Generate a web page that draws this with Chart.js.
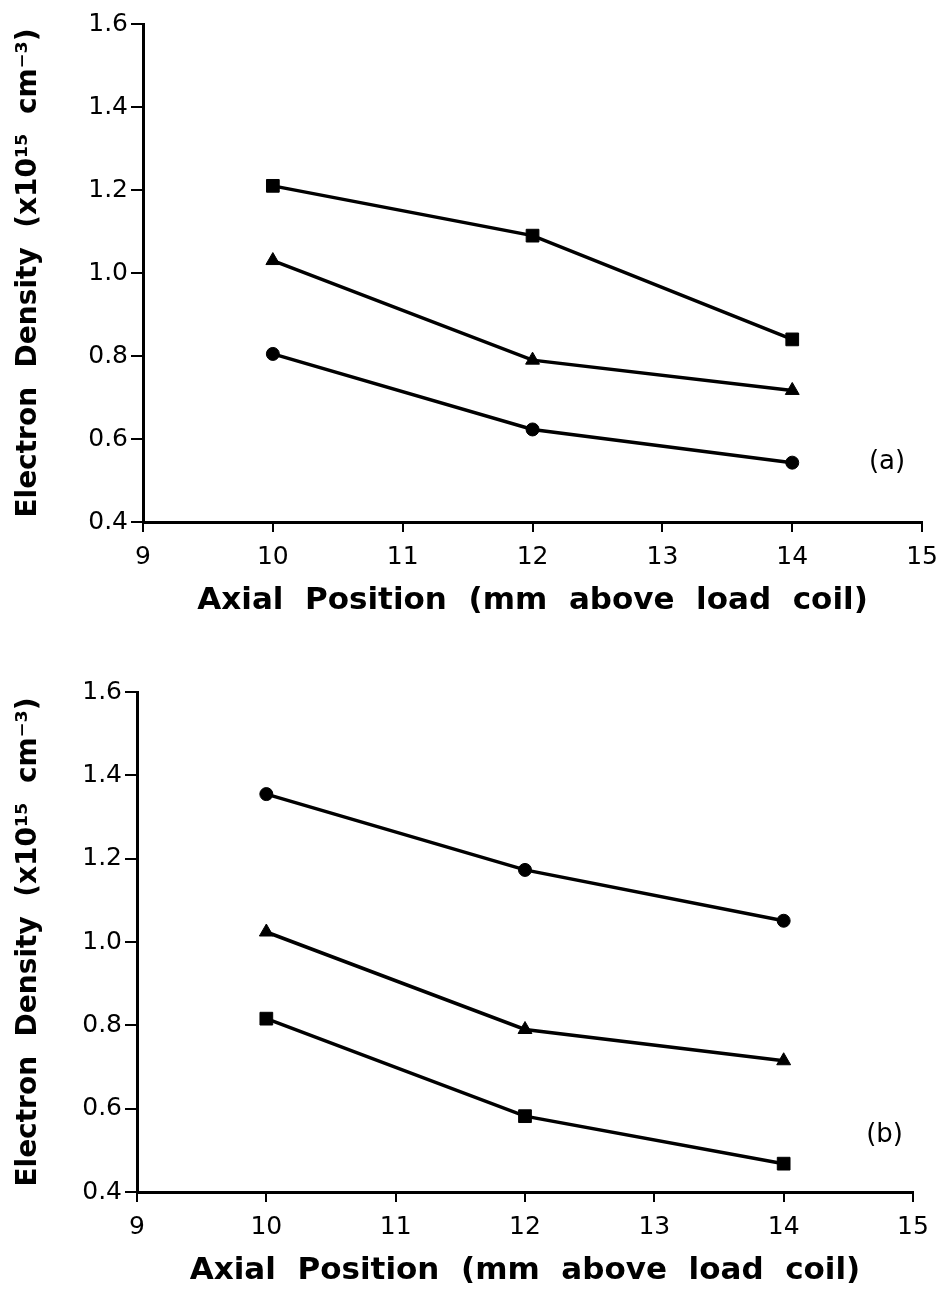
<!DOCTYPE html>
<html>
<head>
<meta charset="utf-8">
<title>Electron Density vs Axial Position</title>
<script src="https://cdn.jsdelivr.net/npm/chart.js@4.4.1/dist/chart.umd.min.js"></script>
<style>
  html, body { margin: 0; padding: 0; background: #fff; }
  body { width: 948px; height: 1295px; position: relative; overflow: hidden; }
  .panel { position: absolute; left: 0; width: 948px; }
  #panelA { top: 0; height: 640px; }
  #panelB { top: 660px; height: 635px; }
</style>
</head>
<body>
<div class="panel" id="panelA"><canvas id="chartA"></canvas></div>
<div class="panel" id="panelB"><canvas id="chartB"></canvas></div>

<script>
// axial positions (mm above load coil)
const positions = [10, 12, 14];

// panel (a), electron density x10^15 cm^-3
const aSquares = [1.21, 1.09, 0.84];
const aTriangles = [1.03, 0.79, 0.717];
const aCircles = [0.805, 0.623, 0.543];

// panel (b)
const bCircles = [1.355, 1.173, 1.051];
const bTriangles = [1.024, 0.79, 0.715];
const bSquares = [0.816, 0.582, 0.468];

const xTicks = [9, 10, 11, 12, 13, 14, 15];
const yTicks = [0.4, 0.6, 0.8, 1.0, 1.2, 1.4, 1.6];

const yTitle = "Electron  Density  (x10\u00b9\u2075  cm\u207b\u00b3)";
const xTitle = "Axial  Position  (mm  above  load  coil)";

const markerSize = { rect: 9, triangle: 8, circle: 6.5 };

function series(values, style) {
  return {
    data: positions.map((x, i) => ({ x, y: values[i] })),
    borderColor: "#000",
    backgroundColor: "#000",
    borderWidth: 3.5,
    pointStyle: style,
    pointRadius: markerSize[style],
    pointBorderWidth: 1,
    tension: 0,
    fill: false
  };
}

// small "(a)" / "(b)" tag inside the plot
const panelTag = {
  id: "panelTag",
  afterDraw(chart, args, opts) {
    const ctx = chart.ctx;
    const x = chart.scales.x.getPixelForValue(opts.x);
    const y = chart.scales.y.getPixelForValue(opts.y);
    ctx.save();
    ctx.font = "26px 'DejaVu Sans'";
    ctx.fillStyle = "#000";
    ctx.textAlign = "center";
    ctx.textBaseline = "middle";
    ctx.fillText(opts.text, x, y);
    ctx.restore();
  }
};

function makeChart(id, datasets, p) {
  const ctx = document.getElementById(id).getContext("2d");
  return new Chart(ctx, {
    type: "line",
    data: { datasets },
    plugins: [panelTag],
    options: {
      responsive: true,
      maintainAspectRatio: false,
      animation: false,
      devicePixelRatio: 1,
      layout: { padding: { left: 12, top: p.top, right: p.right, bottom: p.bottom } },
      plugins: {
        legend: { display: false },
        tooltip: { enabled: false },
        panelTag: p.tag
      },
      scales: {
        x: {
          type: "linear",
          min: 9,
          max: 15,
          afterBuildTicks: s => { s.ticks = xTicks.map(v => ({ value: v })); },
          afterFit: s => { s.height = 100; },
          border: { display: true, color: "#000", width: 3 },
          grid: { drawOnChartArea: false, drawTicks: true, tickLength: 10, color: "#000", lineWidth: 2 },
          ticks: {
            color: "#000",
            padding: 10,
            maxRotation: 0,
            font: { family: "DejaVu Sans", size: 25 },
            callback: v => String(v)
          },
          title: {
            display: true,
            text: xTitle,
            color: "#000",
            padding: { top: 2, bottom: 2 },
            font: { family: "DejaVu Sans", size: 31, weight: "bold" }
          }
        },
        y: {
          min: 0.4,
          max: 1.6,
          afterBuildTicks: s => { s.ticks = yTicks.map(v => ({ value: v })); },
          afterFit: s => { s.width = p.left - 12; },
          border: { display: true, color: "#000", width: 3 },
          grid: { drawOnChartArea: false, drawTicks: true, tickLength: 12, color: "#000", lineWidth: 2 },
          ticks: {
            color: "#000",
            padding: 3,
            font: { family: "DejaVu Sans", size: 25 },
            callback: v => Number(v).toFixed(1)
          },
          title: {
            display: true,
            text: yTitle,
            color: "#000",
            padding: { top: 0, bottom: 0 },
            font: { family: "DejaVu Sans", size: 28, weight: "bold" }
          }
        }
      }
    }
  });
}

makeChart("chartA",
  [series(aSquares, "rect"), series(aTriangles, "triangle"), series(aCircles, "circle")],
  { left: 143, top: 24, right: 23, bottom: 18, tag: { text: "(a)", x: 14.73, y: 0.545 } });

makeChart("chartB",
  [series(bCircles, "circle"), series(bTriangles, "triangle"), series(bSquares, "rect")],
  { left: 137, top: 32, right: 35, bottom: 3, tag: { text: "(b)", x: 14.78, y: 0.537 } });
</script>
</body>
</html>
